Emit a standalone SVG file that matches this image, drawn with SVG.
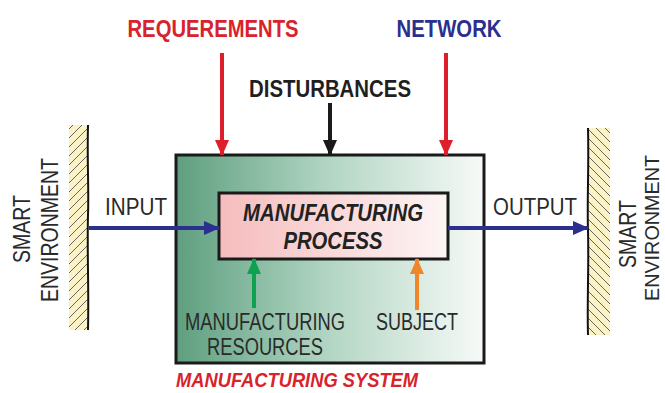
<svg xmlns="http://www.w3.org/2000/svg" width="665" height="393" viewBox="0 0 665 393">
<defs>
<linearGradient id="gSys" x1="0" y1="0" x2="1" y2="0">
<stop offset="0" stop-color="#5e9f7f"/>
<stop offset="0.5" stop-color="#b3d6c4"/>
<stop offset="1" stop-color="#f7faf8"/>
</linearGradient>
<linearGradient id="gProc" x1="0" y1="0" x2="1" y2="0">
<stop offset="0" stop-color="#f6bcbd"/>
<stop offset="1" stop-color="#fdf5f5"/>
</linearGradient>
<pattern id="hatchL" patternUnits="userSpaceOnUse" width="9" height="9">
<rect width="9" height="9" fill="#fbf3c6"/>
<path d="M-1,10 L10,-1" stroke="#555" stroke-width="0.9"/>
</pattern>
<pattern id="hatchR" patternUnits="userSpaceOnUse" width="9" height="9">
<rect width="9" height="9" fill="#fbf3c6"/>
<path d="M-1,-1 L10,10" stroke="#555" stroke-width="0.9"/>
</pattern>
<marker id="aBlue" markerUnits="userSpaceOnUse" markerWidth="16" markerHeight="14" refX="15" refY="7" orient="auto"><path d="M0,0 L16,7 L0,14 Z" fill="#2b2f8e"/></marker>
<marker id="aRed" markerUnits="userSpaceOnUse" markerWidth="16" markerHeight="14" refX="15" refY="7" orient="auto"><path d="M0,0 L16,7 L0,14 Z" fill="#dd1f2b"/></marker>
<marker id="aBlack" markerUnits="userSpaceOnUse" markerWidth="16" markerHeight="14" refX="15" refY="7" orient="auto"><path d="M0,0 L16,7 L0,14 Z" fill="#1a1a1a"/></marker>
<marker id="aGreen" markerUnits="userSpaceOnUse" markerWidth="16" markerHeight="14" refX="15" refY="7" orient="auto"><path d="M0,0 L16,7 L0,14 Z" fill="#0ea150"/></marker>
<marker id="aOrange" markerUnits="userSpaceOnUse" markerWidth="16" markerHeight="14" refX="15" refY="7" orient="auto"><path d="M0,0 L16,7 L0,14 Z" fill="#f0862a"/></marker>
</defs>
<style>
text { font-family: "Liberation Sans", Arial, sans-serif; }
.lbl { font-size: 23px; fill: #2a2a2a; }
.hdr { font-size: 24px; font-weight: bold; }
.bi { font-weight: bold; font-style: italic; }
.edge { fill: none; stroke-width: 4; }
.wall { stroke: #111; stroke-width: 2; fill: none; }
</style>
<rect width="665" height="393" fill="#ffffff"/>

<g id="env-left">
<rect x="69" y="125" width="19" height="205" fill="url(#hatchL)"/>
<path class="wall" d="M88,125 C87,160 89,190 88,215 C87,250 89,290 88,330"/>
<text class="lbl" transform="translate(30,229) rotate(-90)" text-anchor="middle" textLength="68" lengthAdjust="spacingAndGlyphs">SMART</text>
<text class="lbl" transform="translate(58,230) rotate(-90)" text-anchor="middle" textLength="144" lengthAdjust="spacingAndGlyphs">ENVIRONMENT</text>
</g>

<g id="env-right">
<rect x="588" y="128" width="22" height="207" fill="url(#hatchR)"/>
<path class="wall" d="M588,128 C589,170 587,200 588,230 C589,270 587,300 588,335"/>
<text class="lbl" transform="translate(636,234) rotate(-90)" text-anchor="middle" textLength="68" lengthAdjust="spacingAndGlyphs">SMART</text>
<text class="lbl" transform="translate(659,228) rotate(-90)" text-anchor="middle" textLength="146" lengthAdjust="spacingAndGlyphs" style="font-size:21px">ENVIRONMENT</text>
</g>

<g id="system">
<rect x="176" y="155" width="308" height="208" fill="url(#gSys)" stroke="#1a1a1a" stroke-width="3"/>
<text class="bi" x="297" y="387" font-size="20" fill="#d8232c" text-anchor="middle" textLength="242" lengthAdjust="spacingAndGlyphs">MANUFACTURING SYSTEM</text>
</g>

<g id="process">
<rect x="219" y="193" width="229" height="66" fill="url(#gProc)" stroke="#1a1a1a" stroke-width="3"/>
<text class="bi" x="333" y="221" font-size="24" fill="#222" text-anchor="middle" textLength="180" lengthAdjust="spacingAndGlyphs">MANUFACTURING</text>
<text class="bi" x="333" y="249" font-size="24" fill="#222" text-anchor="middle" textLength="99" lengthAdjust="spacingAndGlyphs">PROCESS</text>
</g>

<g id="requirements">
<text class="hdr" x="213" y="37" fill="#d8232c" text-anchor="middle" textLength="171" lengthAdjust="spacingAndGlyphs">REQUEREMENTS</text>
</g>
<g id="network">
<text class="hdr" x="449" y="37" fill="#2b2f8e" text-anchor="middle" textLength="105" lengthAdjust="spacingAndGlyphs">NETWORK</text>
</g>
<g id="disturbances">
<text class="hdr" x="330" y="97" fill="#1f1f1f" text-anchor="middle" textLength="162" lengthAdjust="spacingAndGlyphs">DISTURBANCES</text>
</g>
<g id="input">
<text class="lbl" x="136" y="215" text-anchor="middle" textLength="62" lengthAdjust="spacingAndGlyphs">INPUT</text>
</g>
<g id="output">
<text class="lbl" x="535" y="215" text-anchor="middle" textLength="84" lengthAdjust="spacingAndGlyphs">OUTPUT</text>
</g>
<g id="resources">
<text class="lbl" x="265" y="330" text-anchor="middle" textLength="160" lengthAdjust="spacingAndGlyphs">MANUFACTURING</text>
<text class="lbl" x="265" y="355" text-anchor="middle" textLength="116" lengthAdjust="spacingAndGlyphs">RESOURCES</text>
</g>
<g id="subject">
<text class="lbl" x="417" y="330" text-anchor="middle" textLength="82" lengthAdjust="spacingAndGlyphs">SUBJECT</text>
</g>

<g id="connectors">
<path class="edge" d="M89,228 L219,228" stroke="#2b2f8e" marker-end="url(#aBlue)"/>
<path class="edge" d="M448,228 L588,228" stroke="#2b2f8e" marker-end="url(#aBlue)"/>
<path class="edge" d="M222,53 L222,155" stroke="#dd1f2b" marker-end="url(#aRed)"/>
<path class="edge" d="M446,53 L446,155" stroke="#dd1f2b" marker-end="url(#aRed)"/>
<path class="edge" d="M330,103 L330,155" stroke="#1a1a1a" marker-end="url(#aBlack)"/>
<path class="edge" d="M254,308 L254,259" stroke="#0ea150" marker-end="url(#aGreen)"/>
<path class="edge" d="M417,310 L417,259" stroke="#f0862a" marker-end="url(#aOrange)"/>
</g>
</svg>
